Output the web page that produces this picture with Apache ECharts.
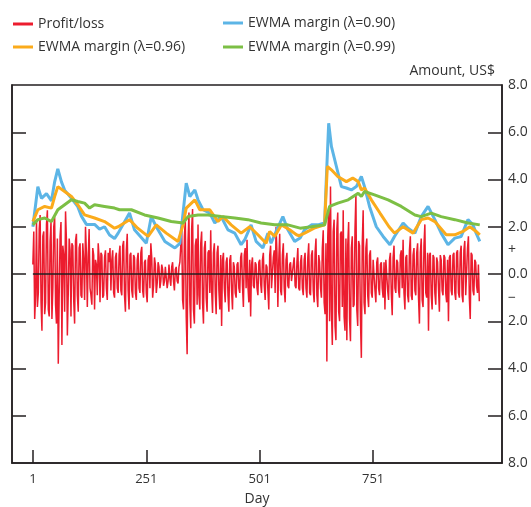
<!DOCTYPE html>
<html>
<head>
<meta charset="utf-8">
<script src="https://cdn.jsdelivr.net/npm/echarts@6/dist/echarts.min.js"></script>
<style>html,body{margin:0;padding:0;background:#fff;}#c{width:531px;height:507px;}</style>
</head>
<body>
<div id="c"></div>
<script>
// ---- data ----
const xTickDays = [1, 251, 501, 751];
const yTickValues = [-6, -4, -2, 0, 2, 4, 6];
const yLabelValues = [-8, -6, -4, -2, -1, 0, 1, 2, 4, 6, 8];

const plStartDay = 1;
const plStepDays = 2;
const plValues = [
  0.4, 1.8, -1.9, -0.9, 2.3, -1.4, -0.8, 1.9, 2.5, -1.2, -2.4, 1.6, 1.8, -1.7, -1.2, 2.1, 2.7, -1.5, -1.8, 1.4, 2.2, -1.9, -0.6, 2.0, 2.4, -1.3, -2.1, 1.5, -3.8, -0.9, 1.6, 2.2, -3.0, 1.2, 0.8, -1.6, 2.65, 1.4, -2.6, -0.8, 1.5, 1.0, -1.8, 1.3, 1.2, -1.1, -2.1, 1.4, 1.7, -0.9,
  -1.6, 1.1, 1.3, -0.9, -1.0, 1.3, 0.6, -1.1, 2.0, 0.9, -1.4, 0.7, 1.9, -0.6, -0.9, -1.3, 1.1, 0.8, -1.5, 0.6, 0.4, -0.9, 1.3, 0.7, -1.2, 0.9, 0.8, -1.0, -0.9, 0.7, 1.0, -0.6, -1.1, 0.9, 0.5, 1.1, -0.7, 0.6, 1.0, -0.8, -1.0, 0.7, 0.9, -0.6, -0.8, 0.8, 1.2, -0.7, -0.9, 1.2,
  1.4, -0.9, -1.6, 1.0, 1.7, -0.7, -1.5, 0.8, 0.9, -0.7, -1.0, 0.8, 0.7, -0.8, -1.1, 0.6, 0.9, -0.6, -0.8, 0.9, 1.15, -0.7, -1.0, 0.5, 0.6, -0.8, -1.2, 0.6, 0.8, -0.6, 1.3, 0.7, -1.0, -0.5, 0.7, 0.4, -0.8, -0.4, 0.5, 0.3, -0.6, -0.3, 0.4, 0.2, -0.5, -0.3, 0.3, 0.3, -0.6, -0.3,
  0.4, -0.2, -0.5, 0.3, 0.5, -0.3, -0.7, 0.2, 0.3, -0.3, -0.4, 0.3, 0.5, 1.2, 2.0, -1.1, -1.5, 1.6, 2.3, -1.8, -3.4, 1.4, 2.6, -1.2, -2.3, 1.9, 2.75, -1.5, -2.1, 1.2, 1.5, -1.3, 2.1, -0.9, -1.5, 1.3, 1.8, -1.2, -2.1, 1.1, 1.4, -1.0, -1.6, 0.9, 1.0, -0.8, 1.85, -0.7, -1.65, 0.9,
  1.3, -0.8, -1.7, 0.9, 1.2, -0.7, -1.5, 0.8, -2.2, 0.6, 0.9, -0.6, -1.2, 0.5, 0.7, -0.9, -1.6, 0.6, 0.8, -0.7, -1.5, 0.5, 0.3, -0.8, -1.0, 0.4, 0.5, -0.6, -0.8, 0.7, 0.9, -0.5, -1.4, 0.8, 1.1, -0.6, 1.45, -0.5, -1.2, 0.6, -1.8, 0.4, 0.7, -0.5, -0.6, 0.5, 0.4, -0.6, -0.9, 0.5,
  0.6, -0.4, -0.8, 0.6, 0.9, -0.5, -1.1, 0.4, 0.3, -0.7, -1.5, 0.8, 1.2, -0.6, -0.6, 0.7, 1.0, -0.8, 2.0, 0.9, -1.4, 0.6, 1.7, -0.7, -0.9, 0.8, 1.3, -0.6, -1.2, 0.6, 0.9, -0.5, -0.6, 0.4, 0.5, -0.3, -0.3, 0.4, 0.7, -0.5, -0.6, 0.5, 1.1, -0.6, -0.7, 0.5, 0.8, -0.6, -0.9, 0.6,
  0.9, -0.6, -1.0, 0.7, 1.3, -0.8, -0.9, 0.8, 1.0, -0.7, -1.2, 0.9, 1.5, -0.9, -1.4, 0.8, 0.5, -0.6, -1.0, 1.1, 1.85, -1.2, -1.7, 1.3, -3.7, 1.6, 2.8, -2.0, 3.7, -1.5, -3.0, 1.8, 2.3, -2.2, -2.8, 1.9, 2.6, -1.6, -2.0, 1.7, 1.8, -1.4, 2.7, -1.8, -2.4, 1.5, -2.8, 1.2, 2.2, -1.9,
  -2.85, 1.1, 1.6, -1.4, -1.3, 1.9, 3.35, -1.5, -2.2, 1.4, 1.2, -1.9, -3.55, 1.3, 2.7, -1.2, -1.7, 1.1, 1.5, -0.9, -1.4, 0.8, 1.0, -0.8, -1.0, 0.6, 0.6, -0.7, -1.2, 0.5, 0.7, -0.6, -0.9, 0.4, 0.5, -0.6, -1.0, 0.5, -1.5, 0.6, 0.6, -0.7, -1.1, 0.6, 0.9, -0.8, -1.75, 0.7, 1.2, -0.6,
  -0.8, 0.6, 0.5, -0.7, -1.0, 0.8, 1.0, -0.6, 1.45, -0.8, -1.5, 0.7, 0.8, -0.9, -1.2, 1.0, 1.6, -0.9, -1.1, 0.8, 1.1, -0.7, -0.9, 0.9, 1.3, -1.0, -2.1, 0.9, 1.5, -1.1, -1.4, 1.2, 2.1, -0.8, -1.0, 0.9, -2.4, 0.8, 0.9, -0.9, -1.5, 0.8, 0.7, -0.8, -1.3, 0.7, 0.5, -0.6, -1.6, 0.8,
  0.6, -0.7, -0.9, 0.8, 0.7, -0.8, -1.2, 0.6, -2.0, 0.7, 0.8, -0.7, -0.9, 0.8, 0.9, -0.8, -1.1, 0.9, 1.0, -0.8, -1.0, 0.9, 1.2, -0.9, -1.2, 1.0, 1.4, -0.9, -0.9, 1.1, 1.6, -1.0, -1.9, 0.9, 0.8, -0.7, -0.9, 0.6, 0.5, -0.5, -0.8, 0.4, -1.15
];

const ewma90Days = [1, 12, 20, 31, 42, 49, 56, 64, 71, 86, 100, 108, 119, 137, 148, 159, 170, 181, 189, 214, 225, 251, 262, 273, 292, 314, 325, 332, 339, 347, 358, 365, 376, 391, 402, 416, 431, 446, 460, 468, 482, 493, 508, 519, 526, 537, 552, 563, 578, 590, 600, 615, 629, 644, 648, 653, 659, 670, 681, 692, 703, 714, 725, 732, 743, 758, 773, 788, 798, 817, 828, 843, 857, 872, 887, 901, 916, 931, 945, 960, 971, 978, 986];
const ewma90Vals = [2.0, 3.7, 3.2, 3.4, 3.1, 3.9, 4.45, 3.9, 3.55, 3.2, 2.85, 2.45, 2.1, 2.1, 1.9, 2.0, 1.65, 1.5, 1.73, 2.58, 1.87, 1.3, 2.43, 2.0, 1.38, 1.1, 1.3, 2.58, 3.85, 3.28, 3.56, 3.14, 2.72, 2.58, 2.16, 2.43, 1.87, 1.73, 1.24, 1.45, 2.08, 1.38, 1.1, 1.73, 1.3, 1.8, 2.43, 1.87, 1.38, 1.52, 1.87, 2.08, 2.08, 2.16, 4.13, 6.38, 5.4, 4.55, 3.7, 3.64, 3.56, 3.7, 4.13, 3.7, 2.86, 2.0, 1.59, 1.24, 1.59, 2.16, 1.94, 1.73, 2.43, 2.86, 2.3, 1.73, 1.24, 1.52, 1.59, 2.3, 2.08, 1.73, 1.38];

const ewma96Days = [1, 12, 27, 42, 49, 56, 71, 86, 100, 115, 137, 159, 181, 189, 214, 232, 255, 273, 295, 321, 332, 339, 358, 369, 391, 409, 420, 438, 460, 479, 497, 515, 523, 534, 549, 567, 582, 588, 600, 621, 644, 650, 659, 673, 692, 706, 718, 725, 732, 747, 766, 786, 798, 817, 839, 857, 872, 887, 912, 931, 949, 964, 978, 986];
const ewma96Vals = [2.22, 2.72, 2.86, 2.79, 3.28, 3.7, 3.49, 3.28, 2.93, 2.5, 2.37, 2.22, 1.94, 2.0, 2.3, 1.94, 1.59, 2.08, 1.73, 1.38, 2.08, 2.79, 3.14, 2.72, 2.72, 2.22, 2.43, 2.08, 1.73, 2.0, 1.66, 1.3, 1.8, 1.59, 2.08, 1.87, 1.66, 1.62, 1.73, 1.94, 2.08, 4.55, 4.41, 4.13, 3.91, 4.06, 3.91, 3.56, 3.64, 3.14, 2.58, 2.0, 1.73, 2.0, 1.73, 2.3, 2.37, 2.22, 1.66, 1.66, 1.8, 2.0, 1.8, 1.66];

const ewma99Days = [1, 12, 27, 42, 56, 71, 86, 100, 115, 126, 137, 159, 181, 192, 218, 247, 277, 306, 332, 343, 365, 387, 416, 446, 475, 504, 534, 563, 590, 615, 644, 655, 673, 696, 718, 725, 732, 754, 784, 813, 843, 857, 879, 901, 931, 960, 986];
const ewma99Vals = [2.08, 2.3, 2.37, 2.22, 2.72, 2.93, 3.14, 3.07, 3.0, 2.79, 2.93, 2.86, 2.79, 2.72, 2.72, 2.5, 2.37, 2.22, 2.16, 2.43, 2.5, 2.5, 2.43, 2.37, 2.3, 2.16, 2.08, 2.08, 1.94, 2.0, 2.08, 2.86, 3.0, 3.14, 3.42, 3.28, 3.49, 3.35, 3.14, 2.86, 2.5, 2.43, 2.58, 2.43, 2.3, 2.16, 2.08];

const seriesNames = ['Profit/loss', 'EWMA margin (λ=0.90)', 'EWMA margin (λ=0.96)', 'EWMA margin (λ=0.99)'];
const xAxisTitle = 'Day';
const yAxisTitle = 'Amount, US$';

// ---- build ----
const pair = (ds, vs) => ds.map((d, i) => [d, vs[i]]);
const plData = plValues.map((v, i) => [plStartDay + i * plStepDays, v]);
const lastDay = plStartDay + (plValues.length - 1) * plStepDays;

const FONT = 'Open Sans';
const TXT = '#333333';
const AX = '#231f20';
const colors = ['#ec1c2e', '#5cb5e6', '#fbab1b', '#7cbf45'];

const chart = echarts.init(document.getElementById('c'), null, { renderer: 'canvas' });
chart.setOption({
  animation: false,
  textStyle: { fontFamily: FONT },
  legend: [
    {
      left: 8, top: 12, orient: 'vertical', itemGap: 9,
      data: [seriesNames[0], seriesNames[2]],
      icon: 'rect', itemWidth: 20, itemHeight: 3,
      textStyle: { fontFamily: FONT, fontSize: 14, color: TXT }
    },
    {
      left: 218, top: 11, orient: 'vertical', itemGap: 10,
      data: [seriesNames[1], seriesNames[3]],
      icon: 'rect', itemWidth: 20, itemHeight: 3,
      textStyle: { fontFamily: FONT, fontSize: 14, color: TXT }
    }
  ],
  grid: {
    left: 12, right: 29, top: 85, bottom: 44, containLabel: false, outerBoundsMode: 'none',
    show: true, borderColor: AX, borderWidth: 1.5, backgroundColor: 'transparent'
  },
  xAxis: {
    type: 'value', min: -45, max: 1035,
    name: xAxisTitle, nameLocation: 'middle', nameGap: 29,
    nameTextStyle: { fontFamily: FONT, fontSize: 14, color: TXT },
    axisLine: { show: true, onZero: false, lineStyle: { color: AX, width: 1.5 } },
    axisTick: { show: true, inside: true, length: 13, customValues: xTickDays, lineStyle: { color: AX, width: 1.5 } },
    axisLabel: { customValues: xTickDays, margin: 10, fontFamily: FONT, fontSize: 13, color: TXT },
    splitLine: { show: false }
  },
  yAxis: [
    {
      type: 'value', position: 'right', min: -8, max: 8,
      name: yAxisTitle, nameLocation: 'end', nameGap: 7,
      nameTextStyle: { fontFamily: FONT, fontSize: 14, color: TXT, align: 'right', padding: [0, 7, 0, 0] },
      axisLine: { show: true, onZero: false, lineStyle: { color: AX, width: 1.5 } },
      axisTick: { show: true, inside: true, length: 14, customValues: yTickValues, lineStyle: { color: AX, width: 1.5 } },
      axisLabel: {
        customValues: yLabelValues, margin: 6, fontFamily: FONT, fontSize: 14, color: TXT,
        formatter: v => v === 1 ? '+' : (v === -1 ? '\u2212' : Math.abs(v).toFixed(1))
      },
      splitLine: { show: false }
    },
    {
      type: 'value', position: 'left', min: -8, max: 8,
      axisLine: { show: true, onZero: false, lineStyle: { color: AX, width: 1.5 } },
      axisTick: { show: true, inside: true, length: 14, customValues: yTickValues, lineStyle: { color: AX, width: 1.5 } },
      axisLabel: { show: false },
      splitLine: { show: false }
    }
  ],
  series: [
    {
      name: seriesNames[0], type: 'line', data: plData, showSymbol: false, symbol: 'none',
      color: colors[0], lineStyle: { color: colors[0], width: 1.5 }, z: 2,
      markLine: {
        silent: true, symbol: ['none', 'none'], label: { show: false },
        lineStyle: { color: AX, width: 1.5, type: 'solid' },
        data: [[{ coord: [plStartDay, 0] }, { coord: [lastDay, 0] }]]
      }
    },
    {
      name: seriesNames[1], type: 'line', data: pair(ewma90Days, ewma90Vals), showSymbol: false, symbol: 'none',
      color: colors[1], lineStyle: { color: colors[1], width: 3 }, z: 3
    },
    {
      name: seriesNames[2], type: 'line', data: pair(ewma96Days, ewma96Vals), showSymbol: false, symbol: 'none',
      color: colors[2], lineStyle: { color: colors[2], width: 3 }, z: 4
    },
    {
      name: seriesNames[3], type: 'line', data: pair(ewma99Days, ewma99Vals), showSymbol: false, symbol: 'none',
      color: colors[3], lineStyle: { color: colors[3], width: 3 }, z: 5
    }
  ]
});
</script>
</body>
</html>
